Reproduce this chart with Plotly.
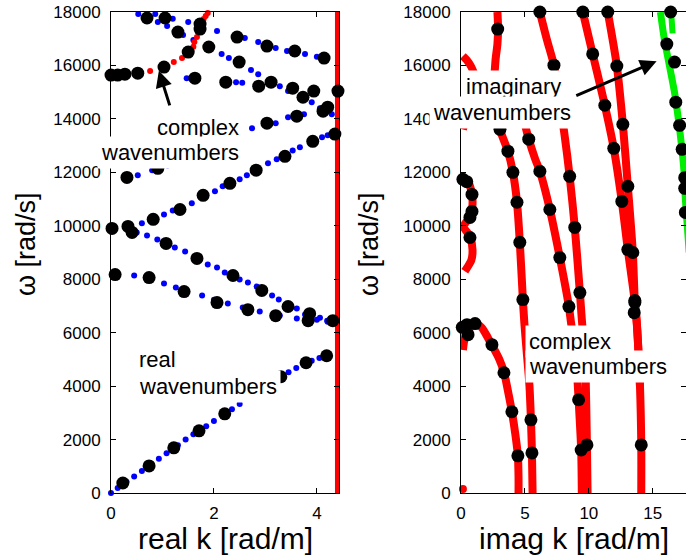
import plotly.graph_objects as go

# ---------------- LEFT PANEL: real k ----------------
# blue dotted branches (real wavenumbers)
b1_k = [0.0, 0.13, 0.3, 0.45, 0.6, 0.78, 0.93, 1.08, 1.3, 1.45, 1.6, 1.85, 2.0, 2.35, 2.5, 2.7, 2.95, 3.1, 3.45, 3.6, 3.9, 4.05]
b1_w = [0, 190, 420, 620, 820, 1060, 1280, 1490, 1790, 2000, 2200, 2500, 2690, 3130, 3330, 3600, 3920, 4100, 4520, 4680, 4950, 5050]
b2_k = [0.45, 0.75, 1.03, 1.26, 1.45, 1.77, 2.0, 2.27, 2.56, 2.89, 3.28, 3.61, 4.0, 4.2]
b2_w = [8140, 8000, 7840, 7690, 7560, 7390, 7230, 7090, 6940, 6790, 6640, 6530, 6480, 6450]
b3_k = [0.5, 0.7, 0.9, 1.24, 1.44, 1.88, 2.06, 2.21, 2.5, 2.66, 2.83, 3.13, 3.26, 3.61, 3.77, 4.06, 4.21]
b3_w = [9750, 9640, 9490, 9190, 9040, 8550, 8440, 8250, 7990, 7880, 7730, 7390, 7240, 6900, 6680, 6560, 6410]
b4_k = [0.6, 1.03, 1.2, 1.57, 2.02, 2.17, 2.5, 2.64, 3.05, 3.22, 3.53, 3.67, 4.1, 4.21]
b4_w = [10090, 10425, 10575, 10840, 11290, 11475, 11740, 11890, 12340, 12490, 12820, 12940, 13310, 13390]
b5_k = [0.52, 0.8, 1.1, 2.74, 3.2, 3.44, 3.75, 4.06]
b5_w = [11890, 12075, 12260, 13650, 13840, 14060, 14175, 14400]
b6_k = [0.53, 0.91, 1.09, 1.4, 1.6, 2.15, 2.29, 2.72, 2.86, 3.28, 3.44, 3.9, 4.29]
b6_w = [17925, 17625, 17475, 17140, 16950, 16425, 16275, 15825, 15675, 15225, 15040, 14625, 14175]
b7_k = [0.86, 1.2, 1.5, 1.75, 2.06, 2.6, 2.86, 3.2, 3.42, 3.77, 4.0]
b7_w = [17925, 17750, 17625, 17480, 17290, 17025, 16875, 16650, 16540, 16425, 16330]
b8_k = [1.47, 2.43, 2.55]
b8_w = [15525, 15375, 15350]

# red complex branch (left panel)
rc_k = [0.76, 1.22, 1.38, 1.5, 1.55, 1.6, 1.62, 1.67, 1.7, 1.75, 1.8, 1.84, 1.88]
rc_w = [15790, 16125, 16275, 16450, 16540, 16700, 16875, 17060, 17250, 17450, 17740, 17850, 17960]

# red vertical line (left panel)
rv_k = [4.41, 4.41]
rv_w = [0, 18000]

# black markers (left panel)
kL_k = [0.23, 0.74, 1.22, 1.71, 2.21, 3.3, 3.79, 4.19,
        0.08, 0.74, 1.42, 2.06, 2.66, 3.2, 3.83, 4.31,
        0.02, 0.33, 0.41, 1.07, 1.67, 2.37, 2.93, 3.44, 3.86,
        0.82, 1.34, 1.79, 2.31, 2.82, 3.38, 3.92, 4.35,
        0.31, 0.91, 3.03, 3.61, 4.21,
        0.39, 0.7, 1.3, 1.9, 2.49, 3.11, 3.73, 4.12,
        1.05, 2.45, 3.03, 3.57, 4.14,
        1.63, 2.23, 2.87, 3.53, 3.94, 4.41,
        0.0, 0.13, 0.27, 0.52, 1.03, 1.5, 1.73, 1.73]
kL_w = [375, 1012, 1690, 2325, 2962, 4350, 4875, 5137,
        8175, 8062, 7537, 7125, 6862, 6637, 6450, 6450,
        9900, 9975, 9750, 9340, 8780, 8140, 7580, 6980, 6710,
        10240, 10610, 11140, 11590, 12080, 12600, 13160, 13430,
        11810, 12150, 13840, 14100, 14440,
        18040, 17775, 17250, 16690, 16125, 15375, 14810, 14290,
        17775, 17060, 16725, 16540, 16275,
        15525, 15375, 15225, 15150, 15040, 15040,
        15640, 15640, 15675, 15712, 15940, 16500, 17360, 17550]

# ---------------- RIGHT PANEL: imag k ----------------
rA_k = [0.15, 0.45, 0.8, 1.0, 0.6, 0.15]
rA_w = [16350, 16200, 15950, 15700, 14500, 13600]
rD_k = [2.85, 2.9, 2.85, 2.7, 2.6, 3.05, 3.67, 4.06, 4.38, 4.6, 4.84, 4.95, 5.1, 5.35, 5.47, 5.55, 5.6]
rD_w = [18000, 17400, 16800, 16200, 15000, 13610, 12790, 12000, 10880, 9380, 7240, 6400, 5500, 4050, 2740, 1500, 0]
rF_k = [4.9, 5.3, 5.8, 6.17, 6.95, 7.73, 8.44, 8.6, 9.0, 9.2, 9.4, 9.45]
rF_w = [14000, 13240, 12500, 12040, 10610, 8810, 6975, 6400, 5000, 3490, 1610, 0]
rG_k = [6.17, 6.7, 7.27, 7.6, 8.1, 8.5, 8.9, 9.3, 9.45, 9.7, 9.85, 9.9]
rG_w = [18000, 17000, 16010, 15000, 13400, 11850, 9940, 7500, 6500, 5000, 1800, 0]
rH_k = [9.53, 10.3, 11.25, 11.95, 12.58, 13.05, 13.6, 13.8, 14.0, 14.1, 14.1]
rH_w = [18000, 16430, 14510, 12900, 10910, 9110, 7130, 6000, 4000, 1800, 0]
rI_k = [11.48, 12.19, 12.66, 13.05, 13.44, 13.6, 13.75, 14.0]
rI_w = [18000, 15980, 13800, 11480, 9000, 7150, 6400, 4000]
rB_k = [0.1, 0.5, 0.85, 0.9, 0.8, 0.5, 0.2, 0.7, 0.9, 0.8, 0.5, 0.3]
rB_w = [11800, 11700, 11200, 10800, 10500, 10200, 9975, 9600, 9100, 8700, 8450, 8300]
rC_k = [0.15, 0.3, 0.53, 0.8, 1.1, 1.6, 2.0, 2.4, 3.0, 3.37, 3.7, 3.98, 4.25, 4.45, 4.5, 4.5]
rC_w = [5350, 5800, 6000, 6250, 6330, 6200, 5900, 5550, 5000, 4500, 3750, 3040, 2200, 1390, 600, 0]
rP_k = [0.15]
rP_w = [150]

# green (imaginary wavenumbers)
g_k = [15.6, 15.9, 16.3, 16.7, 17.0, 17.25, 17.45, 17.55, 17.7, 17.85]
g_w = [18000, 17000, 16000, 15000, 14000, 13000, 12000, 11000, 10000, 9000]
g2_k = [16.45, 16.55]
g2_w = [17900, 17200]

# black markers (right panel)
kR_k = [2.87, 3.05, 3.67, 4.06, 4.38, 4.6, 4.84, 5.47, 5.55,
        5.3, 6.17, 6.95, 7.73, 8.44, 9.2, 9.4,
        6.17, 7.27, 8.5, 8.9, 9.3, 9.85,
        9.53, 10.3, 11.25, 11.95, 12.58, 13.05, 13.6, 13.55,
        11.48, 12.19, 12.66, 13.05, 13.44, 13.6, 14.1,
        0.15, 0.45, 0.86, 0.86, 0.7, 0.7,
        0.1, 0.47, 1.1, 0.55, 2.42, 3.36, 3.98, 4.45,
        16.4, 16.1, 16.7, 16.8, 17.1, 17.3, 17.5, 17.5, 17.55]
kR_w = [17360, 13610, 12790, 12000, 10880, 9380, 7240, 2740, 1500,
        13240, 12040, 10610, 8810, 6975, 3490, 1610,
        18000, 16010, 11850, 9940, 7500, 1800,
        18000, 16430, 14510, 12900, 10910, 9110, 7130, 6750,
        18000, 15980, 13800, 11480, 9000, 7200, 1800,
        11737, 11650, 11175, 10537, 10312, 9562,
        6200, 6300, 6340, 5925, 5550, 4500, 3040, 1390,
        18000, 16800, 16125, 14625, 13760, 12860, 11800, 11400, 10500]

y_ticks = [0, 2000, 4000, 6000, 8000, 10000, 12000, 14000, 16000, 18000]
xL_ticks = [0, 2, 4]
xR_ticks = [0, 5, 10, 15]

BLUE = "#0000ff"
RED = "#ff0000"
GREEN = "#00ee00"
FONT = "Liberation Sans, Arial, sans-serif"

fig = go.Figure()

def dots(x, y, color, size, xa="x", ya="y"):
    fig.add_trace(go.Scatter(x=x, y=y, mode="markers", xaxis=xa, yaxis=ya,
                             marker=dict(color=color, size=size, line=dict(width=0)),
                             cliponaxis=False, hoverinfo="skip"))

def curve(x, y, color, width, xa="x2", ya="y2"):
    fig.add_trace(go.Scatter(x=x, y=y, mode="lines", xaxis=xa, yaxis=ya,
                             line=dict(color=color, width=width, shape="spline", smoothing=0.8),
                             hoverinfo="skip"))

# left panel
for bk, bw in [(b1_k, b1_w), (b2_k, b2_w), (b3_k, b3_w), (b4_k, b4_w),
               (b5_k, b5_w), (b6_k, b6_w), (b7_k, b7_w), (b8_k, b8_w)]:
    dots(bk, bw, BLUE, 6)
dots(rc_k, rc_w, RED, 6)
fig.add_trace(go.Scatter(x=rv_k, y=rv_w, mode="lines", xaxis="x", yaxis="y",
                         line=dict(color=RED, width=6), hoverinfo="skip"))
dots(kL_k, kL_w, "black", 13)

# right panel
for rk, rw in [(rA_k, rA_w), (rD_k, rD_w), (rF_k, rF_w), (rG_k, rG_w),
               (rH_k, rH_w), (rI_k, rI_w), (rB_k, rB_w), (rC_k, rC_w)]:
    curve(rk, rw, RED, 8)
dots(rP_k, rP_w, RED, 8, "x2", "y2")
curve(g_k, g_w, GREEN, 7)
curve(g2_k, g2_w, GREEN, 6)
dots(kR_k, kR_w, "black", 13, "x2", "y2")

W, H = 686, 556
axcommon = dict(showgrid=False, zeroline=False, showline=True, linecolor="black", linewidth=1,
                ticks="inside", ticklen=5, tickcolor="black", mirror="ticks", automargin=False,
                tickfont=dict(family=FONT, size=17, color="black"))

fig.update_layout(
    template="none",
    width=W, height=H, margin=dict(l=0, r=0, t=0, b=0, pad=0, autoexpand=False),
    paper_bgcolor="white", plot_bgcolor="white", showlegend=False,
    xaxis=dict(domain=[111 / W, 339 / W], range=[0, 4.43], tickvals=xL_ticks,
               ticklabelstandoff=5, anchor="y", **axcommon),
    yaxis=dict(domain=[1 - 493 / H, 1 - 12 / H], range=[0, 18000], tickvals=y_ticks,
               tickformat="d", ticklabelstandoff=6, anchor="x", **axcommon),
    xaxis2=dict(domain=[461 / W, 1.0], range=[0, 17.6], tickvals=xR_ticks,
                ticklabelstandoff=5, anchor="y2", **axcommon),
    yaxis2=dict(domain=[1 - 493 / H, 1 - 12 / H], range=[0, 18000], tickvals=y_ticks,
                tickformat="d", ticklabelstandoff=6, anchor="x2", **axcommon),
)

ann = []
lblfont = dict(family=FONT, size=22, color="black")
ttlfont = dict(family=FONT, size=30, color="black")

def label(x, y, text, xref, yref, xanchor):
    ann.append(dict(x=x, y=y, xref=xref, yref=yref, text=text, showarrow=False,
                    xanchor=xanchor, yanchor="middle", bgcolor="white", borderpad=3,
                    font=lblfont))

# text labels with white boxes (one line each)
label(2.56, 13690, "complex", "x", "y", "right")
label(2.56, 12750, "wavenumbers", "x", "y", "right")
label(0.47, 4990, "real", "x", "y", "left")
label(0.47, 3975, "wavenumbers", "x", "y", "left")
label(4.1, 15230, "imaginary", "x2", "y2", "center")
label(3.2, 14250, "wavenumbers", "x2", "y2", "center")
label(5.0, 5660, "complex", "x2", "y2", "left")
label(5.0, 4725, "wavenumbers", "x2", "y2", "left")

# arrows
ann.append(dict(x=0.93, y=15800, xref="x", yref="y", ax=1.15, ay=14450, axref="x", ayref="y",
                text="", showarrow=True, arrowhead=2, arrowsize=1.1, arrowwidth=3,
                arrowcolor="black", standoff=0))
ann.append(dict(x=15.3, y=16160, xref="x2", yref="y2", ax=8.9, ay=14850, axref="x2", ayref="y2",
                text="", showarrow=True, arrowhead=2, arrowsize=1.1, arrowwidth=3,
                arrowcolor="black", standoff=0))
# axis titles
ann.append(dict(x=225 / W, y=1 - 538 / H, xref="paper", yref="paper", text="real k [rad/m]",
                showarrow=False, xanchor="center", yanchor="middle", font=ttlfont))
ann.append(dict(x=573.5 / W, y=1 - 538 / H, xref="paper", yref="paper", text="imag k [rad/m]",
                showarrow=False, xanchor="center", yanchor="middle", font=ttlfont))
ann.append(dict(x=26 / W, y=1 - 244 / H, xref="paper", yref="paper", text="ω [rad/s]",
                textangle=-90, showarrow=False, xanchor="center", yanchor="middle",
                font=dict(family=FONT, size=27, color="black")))
ann.append(dict(x=369 / W, y=1 - 244 / H, xref="paper", yref="paper", text="ω [rad/s]",
                textangle=-90, showarrow=False, xanchor="center", yanchor="middle",
                font=dict(family=FONT, size=27, color="black")))
fig.update_layout(annotations=ann)

fig.write_html("out.html")
